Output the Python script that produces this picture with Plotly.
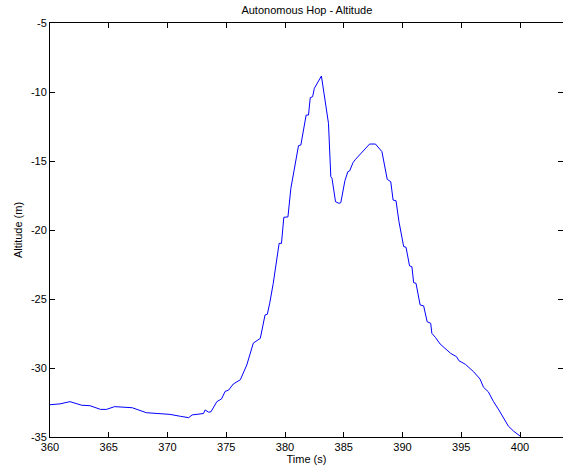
import plotly.graph_objects as go

time_s = [360.0, 360.85, 361.7, 362.7, 363.4, 364.3, 364.8, 365.5, 367.0, 368.2, 369.2,
          370.2, 371.1, 371.6, 371.8, 372.1, 373.06, 373.2, 373.5, 373.7, 374.2, 374.6,
          374.9, 375.2, 375.6, 376.2, 376.75, 377.3, 377.9, 378.3, 378.5, 378.7, 379.0,
          379.5, 379.7, 379.9, 380.25, 380.5, 380.95, 381.15, 381.35, 381.8, 382.0,
          382.15, 382.35, 382.5, 383.1, 383.4, 383.7, 383.9, 384.0, 384.3, 384.6, 384.75,
          385.1, 385.35, 385.5, 385.8, 386.0, 387.2, 387.7, 388.25, 388.5, 388.7, 389.0,
          389.2, 389.45, 389.7, 390.1, 390.3, 390.6, 390.8, 390.95, 391.15, 391.5, 391.8,
          392.1, 392.4, 392.5, 392.8, 393.2, 393.65, 394.1, 394.6, 394.8, 395.35, 396.05,
          396.6, 396.9, 397.3, 397.75, 398.2, 398.6, 399.0, 399.45, 400.0]
altitude_m = [-32.66, -32.6, -32.44, -32.7, -32.73, -33.0, -33.0, -32.8, -32.88, -33.24, -33.3,
              -33.36, -33.5, -33.55, -33.6, -33.4, -33.3, -33.04, -33.2, -33.17, -32.44, -32.24,
              -31.7, -31.6, -31.16, -30.85, -29.78, -28.2, -27.85, -26.16, -26.1, -25.3, -23.86,
              -20.97, -20.97, -19.08, -19.05, -16.98, -14.69, -13.89, -13.84, -11.67, -11.67,
              -10.41, -10.34, -9.73, -8.84, -10.58, -12.27, -16.14, -16.26, -17.95, -18.07, -18.02,
              -16.43, -15.77, -15.72, -15.1, -14.88, -13.77, -13.77, -14.32, -15.36, -16.33, -16.5,
              -17.83, -17.88, -19.4, -21.2, -21.25, -22.6, -22.66, -23.82, -23.86, -25.43, -25.5,
              -26.65, -26.76, -27.49, -27.78, -28.26, -28.62, -28.94, -29.18, -29.47, -29.73, -30.27,
              -30.8, -31.4, -31.72, -32.44, -33.04, -33.6, -34.2, -34.57, -34.93]

x_ticks = [360, 365, 370, 375, 380, 385, 390, 395, 400]
y_ticks = [-35, -30, -25, -20, -15, -10, -5]

fig = go.Figure()
fig.add_trace(go.Scatter(x=time_s, y=altitude_m, mode="lines",
                         line=dict(color="#0000ff", width=1), showlegend=False))

font = dict(family="Liberation Sans, Arial, sans-serif", size=11, color="black")
axis_common = dict(showgrid=False, zeroline=False, showline=True, linecolor="black",
                   linewidth=1, mirror="ticks", ticks="inside", ticklen=5,
                   tickcolor="black", tickwidth=1, tickfont=font, automargin=False)

fig.update_layout(
    width=563, height=469,
    margin=dict(l=50, r=0, t=23, b=32, autoexpand=False),
    paper_bgcolor="white", plot_bgcolor="white",
    font=font,
    title=dict(text="Autonomous Hop - Altitude", x=0.545, xanchor="center",
               xref="container", yref="container",
               y=1 - 10 / 469, yanchor="middle", font=font),
    xaxis=dict(range=[360, 403.66], tickvals=x_ticks, ticktext=[str(v) for v in x_ticks],
               title=dict(text="Time (s)", font=font, standoff=0), **axis_common),
    yaxis=dict(range=[-35, -5], tickvals=y_ticks, ticktext=[str(v) for v in y_ticks],
               title=dict(text="Altitude (m)", font=font, standoff=6), **axis_common),
)

fig.write_html("out.html", config={"displayModeBar": False},
               post_script="document.body.style.margin='0';document.body.style.overflow='hidden';")
